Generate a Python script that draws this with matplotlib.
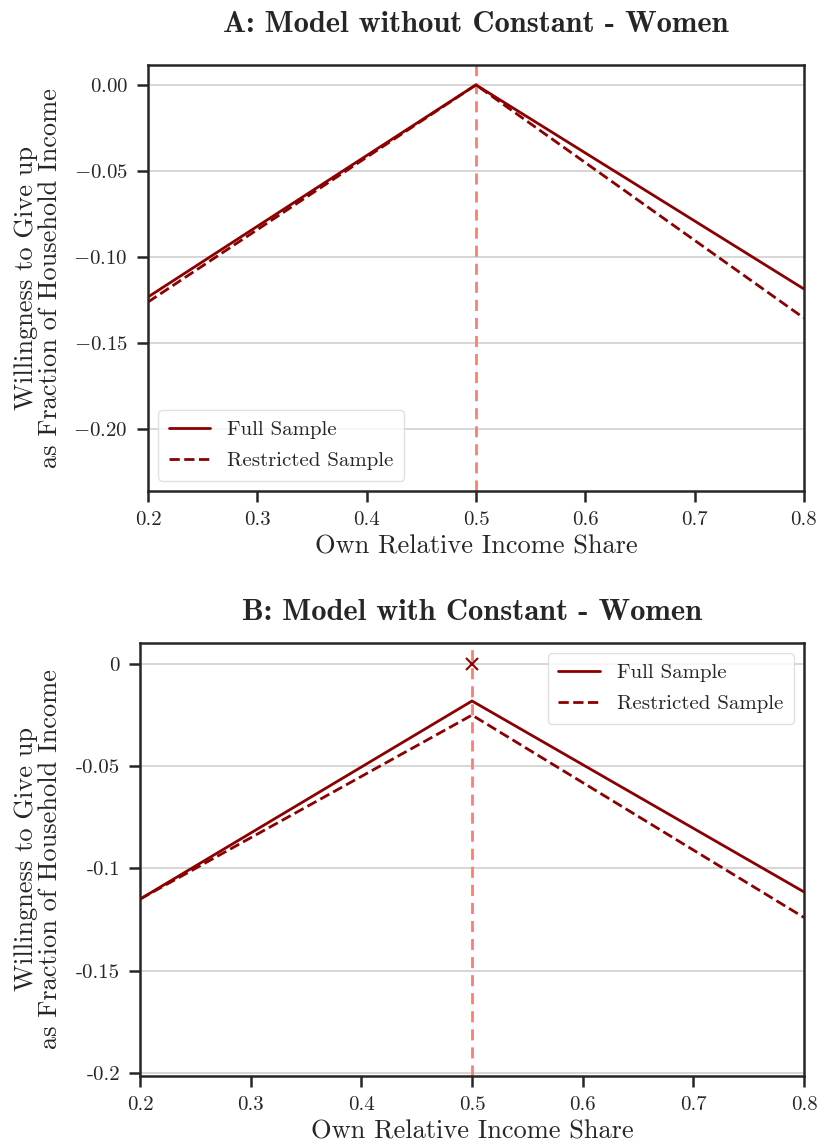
import matplotlib
matplotlib.use("Agg")
import matplotlib.pyplot as plt
import seaborn as sns

# ==========================================================
# DATA
# ==========================================================
share = [0.2, 0.5, 0.8]

a_full = [-0.1233, 0.0, -0.1186]
a_restr = [-0.1262, 0.0, -0.1355]

b_full = [-0.1150, -0.0181, -0.1115]
b_restr = [-0.1150, -0.0250, -0.1240]
b_marker = (0.5, 0.0)

a_yticks = [0.0, -0.05, -0.10, -0.15, -0.20]
b_yticks = [0.0, -0.05, -0.1, -0.15, -0.2]
b_yticklabels = ["0", "-0.05", "-0.1", "-0.15", "-0.2"]
xticks = [0.2, 0.3, 0.4, 0.5, 0.6, 0.7, 0.8]

# ==========================================================
# STYLE
# ==========================================================
sns.set_style("ticks")
plt.rcParams["font.family"] = ["cmr10", "DejaVu Serif"]
plt.rcParams["mathtext.fontset"] = "cm"
plt.rcParams["axes.formatter.use_mathtext"] = True
plt.rcParams["axes.unicode_minus"] = True

RED = "#8b0000"
VLINE = "#fa8072"
GRID = "#d0d0d0"
INK = "#262626"

fig = plt.figure(figsize=(8.17, 11.45), dpi=100)
axA = fig.add_axes([0.1811, 0.5712, 0.8029, 0.3721])
axB = fig.add_axes([0.1714, 0.0603, 0.8127, 0.3782])


def style_axis(ax):
    for s in ax.spines.values():
        s.set_color(INK)
        s.set_linewidth(1.8)
    ax.tick_params(axis="both", which="major", length=8, width=1.8,
                   color=INK, labelsize=15, labelcolor=INK, pad=6.5)
    ax.yaxis.grid(True, color=GRID, linewidth=1.2)
    ax.set_axisbelow(True)
    ax.set_xlim(0.2, 0.8)
    ax.set_xticks(xticks)
    ax.set_xticklabels([f"{t:.1f}" for t in xticks])
    ax.set_xlabel("Own Relative Income Share", fontsize=19, color=INK,
                  labelpad=4)
    ax.set_ylabel("Willingness to Give up\nas Fraction of Household Income",
                  fontsize=19, color=INK, linespacing=1.0)


# ==========================================================
# PANEL A
# ==========================================================
style_axis(axA)
axA.axvline(0.5, color=VLINE, ls="--", lw=2, dashes=(4, 2.5), zorder=1)
axA.plot(share, a_full, color=RED, lw=2, label="Full Sample")
axA.plot(share, a_restr, color=RED, lw=2, ls="--", dashes=(3.7, 1.6),
         label="Restricted Sample")
axA.set_ylim(-0.236, 0.0116)
axA.set_yticks(a_yticks)
axA.set_title("A: Model without Constant - Women", fontsize=22,
              fontfamily="cmb10", color=INK, pad=23.5)
axA.legend(loc="lower left", fontsize=15, frameon=True, fancybox=True,
           edgecolor="#d9d9d9", borderpad=0.5, handlelength=2.0,
           labelspacing=0.6)
axA.yaxis.set_label_coords(-0.131, 0.5)

# ==========================================================
# PANEL B
# ==========================================================
style_axis(axB)
axB.axvline(0.5, color=VLINE, ls="--", lw=2, dashes=(4, 2.5), zorder=1)
axB.plot(share, b_full, color=RED, lw=2, label="Full Sample")
axB.plot(share, b_restr, color=RED, lw=2, ls="--", dashes=(3.7, 1.6),
         label="Restricted Sample")
axB.plot([b_marker[0]], [b_marker[1]], marker="x", color=RED, ms=9,
         mew=1.5, ls="none")
axB.set_ylim(-0.2015, 0.0103)
axB.set_yticks(b_yticks)
axB.set_yticklabels(b_yticklabels)
axB.set_title("B: Model with Constant - Women", fontsize=22,
              fontfamily="cmb10", color=INK, pad=16.5)
axB.legend(loc="upper right", fontsize=15, frameon=True, fancybox=True,
           edgecolor="#d9d9d9", borderpad=0.5, handlelength=2.0,
           labelspacing=0.6)
axB.yaxis.set_label_coords(-0.1175, 0.5)

fig.savefig("out.png", dpi=100)
